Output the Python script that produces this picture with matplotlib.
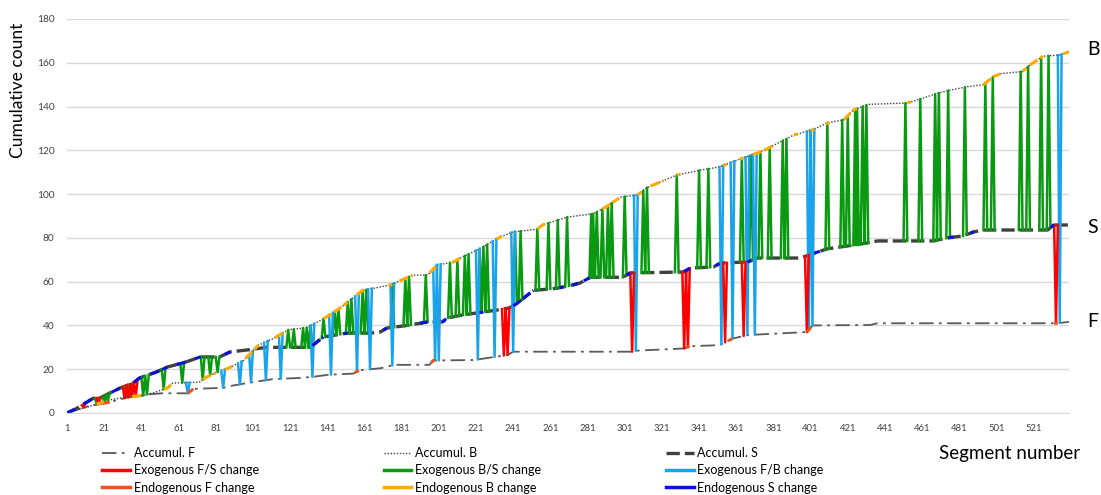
import matplotlib.pyplot as plt
import numpy as np
from matplotlib.lines import Line2D

plt.rcParams['font.family'] = ['Lato', 'DejaVu Sans']

# accumulated counts (break points of the three gray lines)
f_x = [1, 12, 24, 33, 45, 52, 66, 69, 85, 90, 100, 112, 126, 133, 142, 155, 158, 170, 177, 196, 198,
       220, 230, 238, 241, 305, 308, 333, 336, 352, 359, 367, 399, 402, 433, 437, 533, 540]
f_y = [0, 3, 5, 7, 8.5, 9, 9, 11, 11.5, 12.5, 14, 15.5, 16, 16.5, 17.5, 18, 19.5, 20.5, 22, 22, 24,
       24.2, 25.5, 26.5, 28, 28, 28.5, 29.5, 30.5, 31, 34, 35.6, 37, 40, 40.2, 41, 41, 41.6]

b_x = [1, 15, 24, 33, 42, 48, 55, 58, 72, 76, 82, 88, 96, 104, 112, 120, 130, 139, 148, 160, 175,
       187, 195, 200, 209, 213, 223, 234, 241, 254, 257, 270, 284, 290, 299, 308, 313, 329, 342, 352,
       363, 370, 376, 385, 392, 402, 410, 419, 424, 432, 453, 462, 469, 476, 485, 494, 499, 503, 515,
       519, 526, 535, 540]
b_y = [0, 3.5, 6, 7.3, 8, 9.4, 11.4, 13.7, 14, 16.4, 18.7, 20.5, 24, 31, 34, 38, 39, 43, 48, 56,
       58.5, 63, 63, 67.6, 69, 71, 75, 80.4, 82.7, 84, 86, 89.5, 91, 93.6, 98.7, 99.6, 103, 108.7, 111,
       112.4, 116, 118, 120, 124, 127, 129.3, 132.5, 134, 138.4, 141, 141.6, 144, 146, 147.5, 149, 150,
       153.5, 155, 156, 159, 163, 163.5, 165]

s_x = [1, 6, 15, 19, 29.5, 36.5, 40, 49, 55, 65, 72.6, 83, 88.7, 98, 108.6, 131.8, 138.8, 151.7, 164,
       169.5, 173, 184, 191, 194.8, 203, 205.5, 214, 232, 239, 243, 251.8, 264.7, 273, 277, 282.5, 300,
       304, 332.5, 336.3, 348.7, 352.5, 367, 372.4, 395.5, 404.6, 410, 424, 431.5, 437, 467, 474.6, 483,
       488.6, 494, 528.5, 531.7, 540]
s_y = [0, 2, 6.7, 7, 11.4, 13.6, 16, 18.7, 21, 23.3, 25.6, 25.6, 27.9, 28.8, 30, 30, 34.7, 36.5, 36.5,
       37, 38.8, 40, 41, 41.6, 41.6, 43.4, 44.8, 47, 48, 50, 56, 57, 58.5, 59.4, 62, 62, 64, 64.4, 66.2,
       66.7, 68.5, 69, 70.8, 70.8, 73.5, 75, 76.7, 77.7, 78.6, 78.6, 80, 80.9, 82.7, 83.6, 83.6, 85.9,
       85.9]

# exogenous changes (segment numbers)
exo_fs = [10, 18, 32, 34, 36, 38, 236, 238, 305, 333, 335, 355, 365, 399, 533]
exo_bs = [17, 21, 23, 33, 35, 42, 44, 53, 63, 74, 78, 82, 120, 123, 128, 130, 132, 139, 145, 147, 152,
          154, 160, 162, 176, 183, 185, 194, 207, 211, 215, 217, 223, 225, 227, 242, 245, 254, 260, 265,
          270, 283, 284, 286, 289, 292, 294, 301, 311, 313, 329, 341, 346, 364, 369, 374, 379, 386, 388,
          410, 418, 421, 425, 426, 429, 431, 452, 460, 468, 470, 475, 484, 495, 499, 514, 518, 525, 529]
exo_fb = [2, 66, 85, 94, 100, 108, 116, 133, 143, 157, 164, 176, 199, 201, 222, 231, 241, 307, 353,
          359, 367, 371, 400, 402, 535]

# endogenous changes (segment ranges)
endo_f = [(20, 24), (66, 69), (156, 158), (197, 199), (334, 336), (357, 359), (399, 401), (532, 534)]
endo_b = [(17, 21), (36, 41), (53, 57), (74, 81), (86, 90), (97, 104), (113, 119), (139, 152),
          (157, 162), (174, 176), (180, 187), (196, 200), (208, 213), (232, 235), (254, 258), (289, 298),
          (308, 310), (315, 322), (329, 331), (354, 356), (363, 365), (370, 381), (392, 394), (401, 403),
          (409, 411), (419, 426), (453, 455), (494, 503), (515, 517), (519, 526), (537, 540)]
endo_s = [(1, 6), (10, 15), (25, 30), (37, 41), (46, 55), (60, 65), (70, 73), (86, 89), (133, 139),
          (150, 152), (171, 173), (191, 195), (203, 205), (223, 225), (241, 252), (266, 268), (273, 276),
          (279, 282), (302, 304), (333, 336), (350, 352), (367, 369), (403, 406), (475, 478), (487, 489),
          (530, 532)]


def spikes(xs, ax_, ay_, bx_, by_):
    px, py = [], []
    for x in xs:
        px += [x - 1, x, x + 1, np.nan]
        py += [np.interp(x - 1, ax_, ay_), np.interp(x, bx_, by_), np.interp(x + 1, ax_, ay_), np.nan]
    return px, py


def pieces(ranges, lx, ly):
    px, py = [], []
    for a, b in ranges:
        xx = np.linspace(a, b, 6)
        px += list(xx) + [np.nan]
        py += list(np.interp(xx, lx, ly)) + [np.nan]
    return px, py


fig = plt.figure(figsize=(11.01, 4.95), dpi=100)
ax = fig.add_axes([67 / 1101, 82 / 495, 1002 / 1101, 394 / 495])

ax.plot(f_x, f_y, color='#595959', lw=1.3, ls=(0, (8, 3, 1.5, 3)))
ax.plot(b_x, b_y, color='#404040', lw=1.0, ls=(0, (1, 1.2)))
ax.plot(s_x, s_y, color='#404040', lw=2.4, ls=(0, (4, 1.5)))

c_fs, c_bs, c_fb = '#FF0000', '#0A9A12', '#1AA3EA'
c_ef, c_eb, c_es = '#F5501A', '#FFAA00', '#0A10DD'

x, y = spikes(exo_bs, s_x, s_y, b_x, b_y)
ax.plot(x, y, color=c_bs, lw=1.8)
x, y = spikes(exo_fb, b_x, b_y, f_x, f_y)
ax.plot(x, y, color=c_fb, lw=1.8)
x, y = spikes(exo_fs, s_x, s_y, f_x, f_y)
ax.plot(x, y, color=c_fs, lw=1.8)

x, y = pieces(endo_f, f_x, f_y)
ax.plot(x, y, color=c_ef, lw=2.2, ls=(0, (3, 1)))
x, y = pieces(endo_b, b_x, b_y)
ax.plot(x, y, color=c_eb, lw=2.2, ls=(0, (3, 1)))
x, y = pieces(endo_s, s_x, s_y)
ax.plot(x, y, color=c_es, lw=2.2, ls=(0, (3, 1)))

ax.set_xlim(1, 540)
ax.set_ylim(0, 180)
ax.set_xticks(range(1, 522, 20))
ax.set_yticks(range(0, 181, 20))
ax.tick_params(length=0, labelcolor='#404040')
ax.tick_params(axis='x', labelsize=6.8, pad=8)
ax.tick_params(axis='y', labelsize=7.3, pad=9)
ax.yaxis.grid(True, color='#D9D9D9', lw=1)
ax.set_axisbelow(True)
for side in ['left', 'right', 'top']:
    ax.spines[side].set_visible(False)
ax.spines['bottom'].set_color('#D9D9D9')

fig.text(18 / 1101, 1 - 90 / 495, 'Cumulative count', rotation=90, ha='center', va='center', fontsize=12.5)
fig.text(1010 / 1101, 1 - 453 / 495, 'Segment number', ha='center', va='center', fontsize=13.5)
for lab, yy in zip(['B', 'S', 'F'], [165, 84, 41]):
    ax.text(1.018, yy / 180 + 0.005, lab, transform=ax.transAxes, fontsize=14, ha='left', va='center')

handles = [
    Line2D([], [], color='#595959', lw=1.3, ls=(0, (8, 3, 1.5, 3))),
    Line2D([], [], color=c_fs, lw=2.5),
    Line2D([], [], color=c_ef, lw=2.5),
    Line2D([], [], color='#404040', lw=1.0, ls=(0, (1, 1.2))),
    Line2D([], [], color=c_bs, lw=2.5),
    Line2D([], [], color=c_eb, lw=2.5),
    Line2D([], [], color='#404040', lw=2.4, ls=(0, (4, 1.5))),
    Line2D([], [], color=c_fb, lw=2.5),
    Line2D([], [], color=c_es, lw=2.5),
]
labels = ['Accumul. F', 'Exogenous F/S change', 'Endogenous F change',
          'Accumul. B', 'Exogenous B/S change', 'Endogenous B change',
          'Accumul. S', 'Exogenous F/B change', 'Endogenous S change']
fig.legend(handles, labels, ncol=3, loc='upper left', bbox_to_anchor=(96 / 1101, 1 - 441 / 495),
           frameon=False, fontsize=9.0, handlelength=2.2, handletextpad=0.3, columnspacing=10.0,
           labelspacing=0.42, borderpad=0)

fig.savefig('out.png', dpi=100)
